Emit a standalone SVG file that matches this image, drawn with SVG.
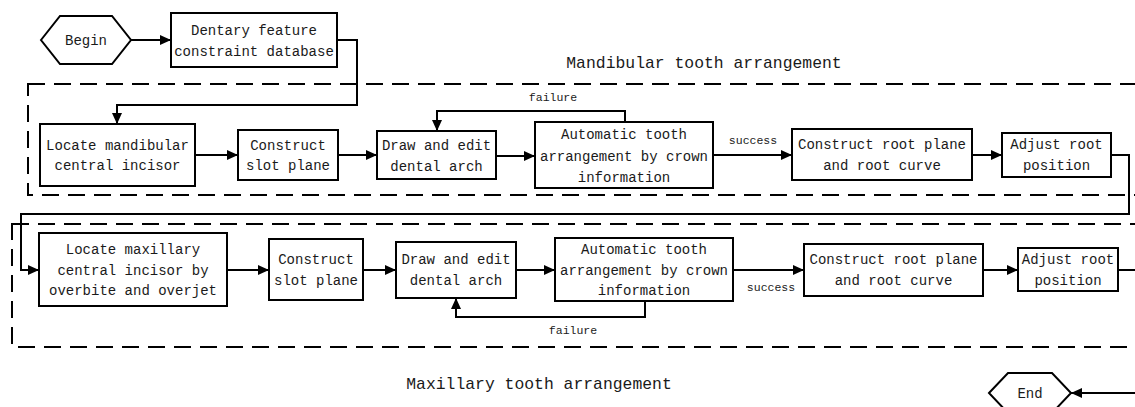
<svg xmlns="http://www.w3.org/2000/svg" width="1135" height="407" viewBox="0 0 1135 407">
<style>
  .box{fill:#fff;stroke:#000;stroke-width:2}
  .frame{fill:none;stroke:#000;stroke-width:2;stroke-dasharray:17 9}
  .conn{fill:none;stroke:#000;stroke-width:2}
  text{font-family:"Liberation Mono","DejaVu Sans Mono",monospace;fill:#1a1a1a;text-anchor:middle}
  .t{font-size:14px}
  .lbl{font-size:11.5px}
  .title{font-size:16.4px}
</style>
<defs>
  <marker id="arr" markerUnits="userSpaceOnUse" markerWidth="12" markerHeight="10" refX="11" refY="5" orient="auto">
    <path d="M0,0 L11,5 L0,10 Z" fill="#000"/>
  </marker>
</defs>
<rect width="1135" height="407" fill="#fff"/>
<g id="frames">
  <rect class="frame" x="28" y="84" width="1130" height="111"/>
  <rect class="frame" x="12" y="224" width="1146" height="123"/>
</g>
<g id="titles">
  <text class="title" x="704" y="68">Mandibular tooth arrangement</text>
  <text class="title" x="539" y="389">Maxillary tooth arrangement</text>
</g>
<g id="connectors">
  <path class="conn" d="M131,40 H171" marker-end="url(#arr)"/>
  <path class="conn" d="M337,40 H357 V105 H117 V124" marker-end="url(#arr)"/>
  <path class="conn" d="M195,155 H238" marker-end="url(#arr)"/>
  <path class="conn" d="M338,155 H377" marker-end="url(#arr)"/>
  <path class="conn" d="M496,156 H535" marker-end="url(#arr)"/>
  <path class="conn" d="M625,122 V111 H437 V131" marker-end="url(#arr)"/>
  <path class="conn" d="M713,155 H792" marker-end="url(#arr)"/>
  <path class="conn" d="M972,155 H1002" marker-end="url(#arr)"/>
  <path class="conn" d="M1111,155 H1129 V214 H21 V270 H39" marker-end="url(#arr)"/>
  <path class="conn" d="M227,270 H269" marker-end="url(#arr)"/>
  <path class="conn" d="M363,270 H396" marker-end="url(#arr)"/>
  <path class="conn" d="M516,270 H555" marker-end="url(#arr)"/>
  <path class="conn" d="M645,301 V317 H456 V298" marker-end="url(#arr)"/>
  <path class="conn" d="M733,270 H804" marker-end="url(#arr)"/>
  <path class="conn" d="M983,270 H1018" marker-end="url(#arr)"/>
  <path class="conn" d="M1118,270 H1150 V393 H1071" marker-end="url(#arr)"/>
  <text class="lbl" x="553" y="101">failure</text>
  <text class="lbl" x="753" y="144">success</text>
  <text class="lbl" x="573" y="334">failure</text>
  <text class="lbl" x="771" y="291">success</text>
</g>
<g id="begin">
  <polygon class="box" points="41,40 60,16 112,16 131,40 112,64 60,64"/>
  <text class="t" x="86" y="45">Begin</text>
</g>
<g id="database">
  <rect class="box" x="171" y="13" width="166" height="54"/>
  <text class="t" x="254" y="35">Dentary feature</text>
  <text class="t" x="254" y="56">constraint database</text>
</g>
<g id="locate-mand">
  <rect class="box" x="40" y="124" width="155" height="62"/>
  <text class="t" x="117.5" y="150">Locate mandibular</text>
  <text class="t" x="117.5" y="170">central incisor</text>
</g>
<g id="slot-mand">
  <rect class="box" x="238" y="130" width="100" height="50"/>
  <text class="t" x="288" y="150">Construct</text>
  <text class="t" x="288" y="170">slot plane</text>
</g>
<g id="arch-mand">
  <rect class="box" x="377" y="131" width="119" height="48"/>
  <text class="t" x="436.5" y="150">Draw and edit</text>
  <text class="t" x="436.5" y="171">dental arch</text>
</g>
<g id="auto-mand">
  <rect class="box" x="535" y="122" width="178" height="66"/>
  <text class="t" x="624" y="139">Automatic tooth</text>
  <text class="t" x="624" y="161">arrangement by crown</text>
  <text class="t" x="624" y="182">information</text>
</g>
<g id="root-mand">
  <rect class="box" x="792" y="129" width="180" height="51"/>
  <text class="t" x="882" y="149">Construct root plane</text>
  <text class="t" x="882" y="170">and root curve</text>
</g>
<g id="adjust-mand">
  <rect class="box" x="1002" y="133" width="109" height="44"/>
  <text class="t" x="1056.5" y="149">Adjust root</text>
  <text class="t" x="1056.5" y="170">position</text>
</g>
<g id="locate-max">
  <rect class="box" x="39" y="233" width="188" height="73"/>
  <text class="t" x="133" y="254">Locate maxillary</text>
  <text class="t" x="133" y="275">central incisor by</text>
  <text class="t" x="133" y="295">overbite and overjet</text>
</g>
<g id="slot-max">
  <rect class="box" x="269" y="239" width="94" height="61"/>
  <text class="t" x="316" y="264">Construct</text>
  <text class="t" x="316" y="285">slot plane</text>
</g>
<g id="arch-max">
  <rect class="box" x="396" y="242" width="120" height="56"/>
  <text class="t" x="456" y="264">Draw and edit</text>
  <text class="t" x="456" y="285">dental arch</text>
</g>
<g id="auto-max">
  <rect class="box" x="555" y="238" width="178" height="63"/>
  <text class="t" x="644" y="254">Automatic tooth</text>
  <text class="t" x="644" y="275">arrangement by crown</text>
  <text class="t" x="644" y="295">information</text>
</g>
<g id="root-max">
  <rect class="box" x="804" y="244" width="179" height="52"/>
  <text class="t" x="893.5" y="264">Construct root plane</text>
  <text class="t" x="893.5" y="285">and root curve</text>
</g>
<g id="adjust-max">
  <rect class="box" x="1018" y="248" width="100" height="43"/>
  <text class="t" x="1068" y="264">Adjust root</text>
  <text class="t" x="1068" y="285">position</text>
</g>
<g id="end">
  <polygon class="box" points="989,393 1008,373 1052,373 1071,393 1052,413 1008,413"/>
  <text class="t" x="1030" y="398">End</text>
</g>
</svg>
